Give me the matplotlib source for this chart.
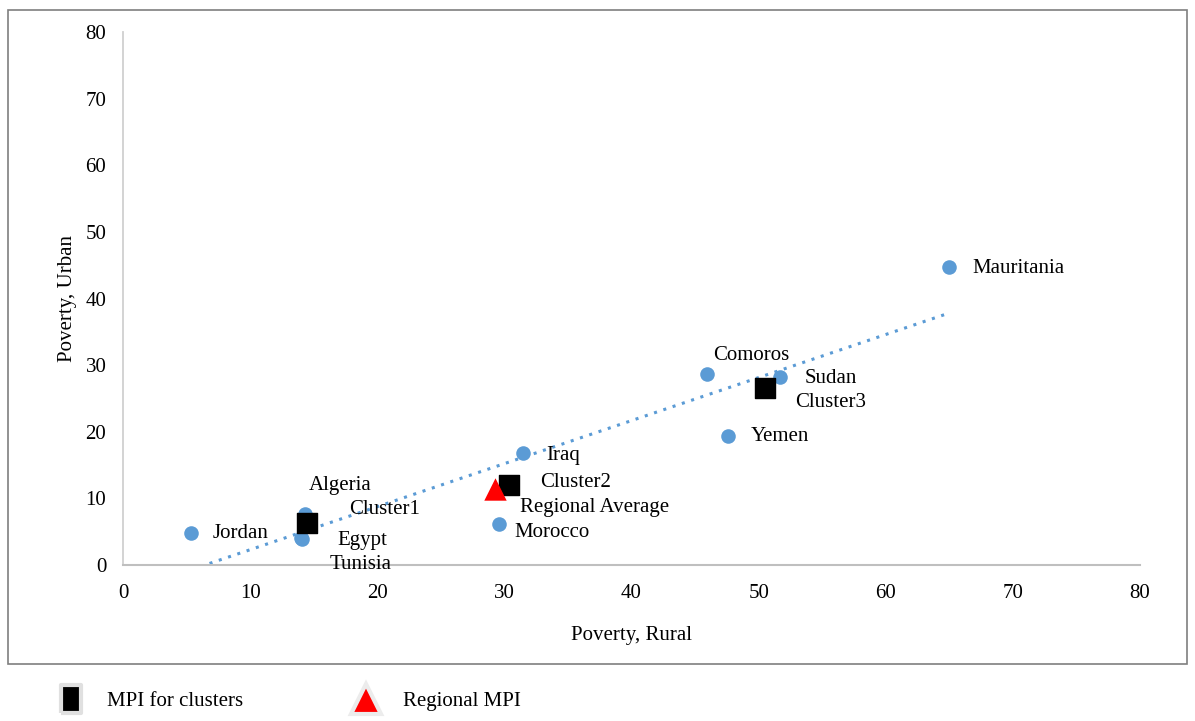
import numpy as np
import matplotlib
matplotlib.use("Agg")
import matplotlib.pyplot as plt
from matplotlib.lines import Line2D
from matplotlib.patches import Rectangle

plt.rcParams['font.family'] = ['Liberation Serif', 'DejaVu Serif']

countries = ["Jordan", "Algeria", "Egypt", "Tunisia", "Iraq", "Morocco",
             "Comoros", "Sudan", "Yemen", "Mauritania"]
rural = [5.35, 14.3, 14.0, 14.1, 31.5, 29.6, 45.9, 51.7, 47.6, 65.0]
urban = [4.8, 7.7, 4.05, 3.9, 16.8, 6.2, 28.7, 28.2, 19.4, 44.7]

clusters = ["Cluster1", "Cluster2", "Cluster3"]
cluster_rural = [14.5, 30.4, 50.5]
cluster_urban = [6.35, 12.0, 26.6]

regional_label = "Regional Average"
regional_rural = [29.3]
regional_urban = [11.4]

xticks = [0, 10, 20, 30, 40, 50, 60, 70, 80]
yticks = [0, 10, 20, 30, 40, 50, 60, 70, 80]

# label offsets in pixels
country_off = {"Jordan": (22, 0), "Algeria": (4, 28), "Egypt": (36, -2),
               "Tunisia": (27, -25), "Iraq": (23, -2), "Morocco": (15, -9),
               "Comoros": (7, 18), "Sudan": (24, -1), "Yemen": (23, -1),
               "Mauritania": (23, -1)}
cluster_off = {"Cluster1": (42, 13), "Cluster2": (31, 3), "Cluster3": (30, -15)}

fig = plt.figure(figsize=(11.95, 7.21), dpi=100)
ax = fig.add_axes([123/1195, 1-565/721, (1140-123)/1195, (565-32)/721])

blue = "#5B9BD5"
FS = 15

# trendline
coef = np.polyfit(rural, urban, 1)
xs = np.array([min(rural), max(rural)])
ax.plot(xs, np.polyval(coef, xs), linestyle=(0, (1, 2.2)), color=blue,
        linewidth=2.2, zorder=2)

ax.scatter(rural, urban, s=110, color=blue, zorder=3, linewidths=0)
ax.scatter(cluster_rural, cluster_urban, s=190, marker='s', color='black', zorder=4)
ax.scatter(regional_rural, regional_urban, s=260, marker='^', color='red', zorder=4,
           linewidths=0)

for name, x, y in zip(countries, rural, urban):
    ax.annotate(name, (x, y), xytext=country_off[name], textcoords='offset pixels',
                ha='left', va='center', fontsize=FS, zorder=5)
for name, x, y in zip(clusters, cluster_rural, cluster_urban):
    ax.annotate(name, (x, y), xytext=cluster_off[name], textcoords='offset pixels',
                ha='left', va='center', fontsize=FS, zorder=5)
ax.annotate(regional_label, (regional_rural[0], regional_urban[0]), xytext=(25, -18),
            textcoords='offset pixels', ha='left', va='center', fontsize=FS, zorder=5)

ax.set_xlim(0, 80)
ax.set_ylim(0, 80)
ax.set_xticks(xticks)
ax.set_yticks(yticks)
ax.tick_params(length=0, labelsize=FS, pad=14)
ax.tick_params(axis='y', pad=12)
for s in ['top', 'right']:
    ax.spines[s].set_visible(False)
ax.spines['bottom'].set_color('#bfbfbf')
ax.spines['left'].set_color('#d0d0d0')
ax.spines['bottom'].set_linewidth(1.5)
ax.spines['left'].set_linewidth(1.3)
ax.set_xlabel("Poverty, Rural", fontsize=FS, labelpad=16)
ax.set_ylabel("Poverty, Urban", fontsize=FS, labelpad=6)

# outer frame
fig.add_artist(Rectangle((8/1195, 1-664/721), 1179/1195, 654/721, transform=fig.transFigure,
                         fill=False, edgecolor='#7f7f7f', linewidth=1.2))

rect_marker = [(-0.7, -1), (0.7, -1), (0.7, 1), (-0.7, 1), (-0.7, -1)]
handles = [
    Line2D([], [], marker=rect_marker, linestyle='none', markersize=20, markerfacecolor='black',
           markeredgecolor='#e0e0e0', markeredgewidth=3),
    Line2D([], [], marker='^', linestyle='none', markersize=22, markerfacecolor='red',
           markeredgecolor='#ececec', markeredgewidth=3),
]
fig.legend(handles, ["MPI for clusters", "Regional MPI"], loc='center left',
           bbox_to_anchor=(31/1195, 1-701/721), ncol=2, frameon=False, fontsize=FS,
           columnspacing=4.9, handletextpad=0.75)

fig.savefig("out.png", dpi=100)
